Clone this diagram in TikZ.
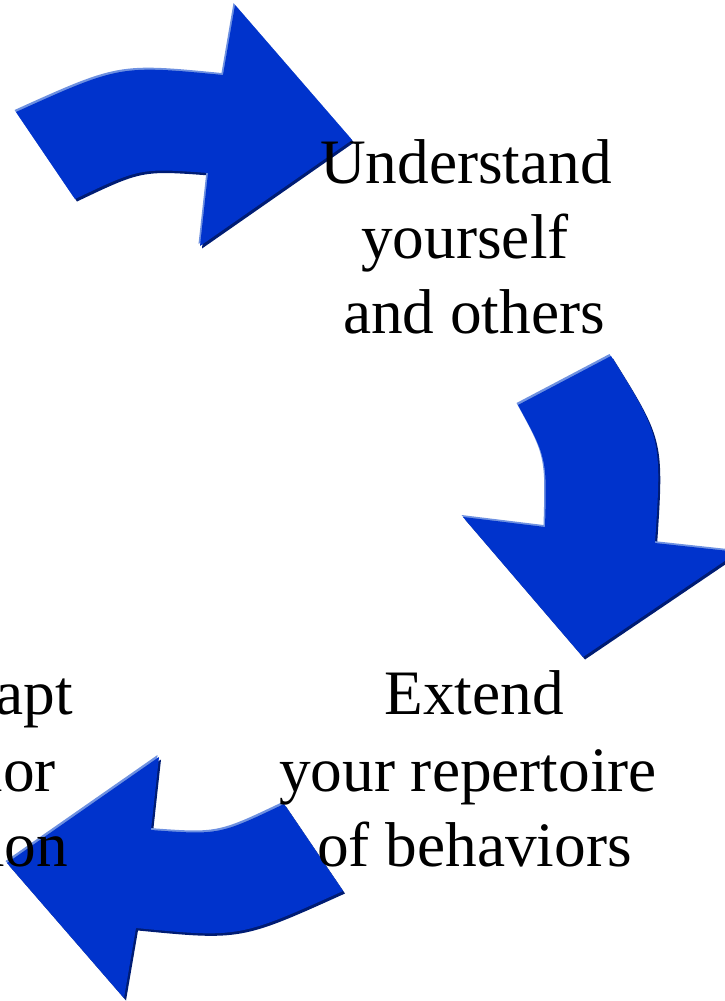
\documentclass[tikz,border=0pt]{standalone}
\usepackage{fontspec}
\setmainfont{Liberation Serif}
\definecolor{arrowblue}{RGB}{0,51,204}
\definecolor{arrowlight}{RGB}{110,145,225}
\definecolor{arrowdark}{RGB}{0,28,115}
\tikzset{
  lbl/.style={inner sep=0pt, outer sep=0pt, anchor=base, text=black,
    font=\fontsize{63.3}{75.5}\selectfont},
  lblr/.style={lbl, anchor=base east},
}
\begin{document}
\begin{tikzpicture}[x=1pt,y=-1pt]
\useasboundingbox (0,0) rectangle (725,1001);
\clip (0,0) rectangle (725,1001);
% three curved block arrows with a light upper edge and a dark lower edge
\foreach \dx/\dy/\c in {2/2.5/arrowdark, -1.5/-2/arrowlight, 0/0/arrowblue}{
  % top arrow
  \fill[\c, shift={(\dx,\dy)}]
    (16,112) .. controls (120,65) .. (223,75) -- (235,5) -- (352,140)
    -- (200,246) -- (208,173) .. controls (140,168) .. (75,199) -- cycle;
  % right arrow
  \fill[\c, shift={(\dx,\dy)}]
    (518,405) -- (611,356) .. controls (662,438) .. (655,543) -- (738,552)
    -- (583,657) -- (463,517) -- (545,527) .. controls (547,458) .. (518,405) -- cycle;
  % lower left arrow
  \fill[\c, shift={(\dx,\dy)}]
    (343,891) .. controls (239,938) .. (136,928) -- (124,998) -- (7,863)
    -- (159,757) -- (151,830) .. controls (219,835) .. (284,804) -- cycle;
}
% texts
\node[lbl] (u1) at (466,183) {Understand};
\node[lbl] (u2) at (465,258) {yourself};
\node[lbl] (u3) at (474,333) {and others};
\node[lbl] (e1) at (474,714) {Extend};
\node[lbl] (e2) at (468,791) {your repertoire};
\node[lbl] (e3) at (474.5,866) {of behaviors};
\node[lblr] (a1) at (73,714) {apt};
\node[lblr] (a2) at (56,791) {ior};
\node[lblr] (a3) at (68,866) {ion};
\end{tikzpicture}
\end{document}
